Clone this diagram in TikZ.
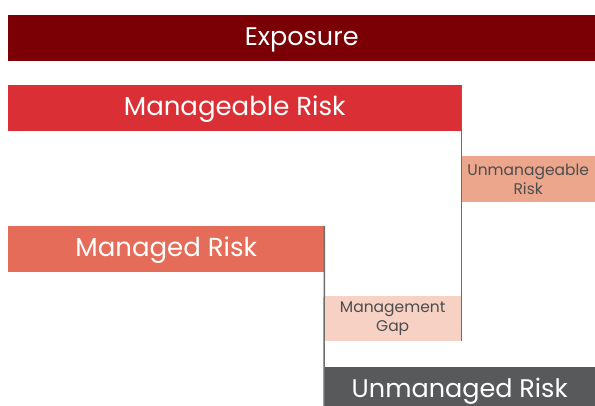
\documentclass[tikz,border=0pt]{standalone}
\usepackage{fontspec}
\setmainfont{Poppins}
\usetikzlibrary{positioning}

\definecolor{exposurered}{HTML}{7A0006}
\definecolor{manageablered}{HTML}{DA2F35}
\definecolor{managedred}{HTML}{E56C58}
\definecolor{unmanageablepink}{HTML}{ECA68C}
\definecolor{gappink}{HTML}{F6D1C4}
\definecolor{unmanagedgray}{HTML}{58595B}
\definecolor{rulegray}{HTML}{6D6D6D}
\definecolor{labelgray}{HTML}{4D4D4D}

\begin{document}
\begin{tikzpicture}[x=1pt, y=1pt,
    bar/.style = {rectangle, inner sep=0pt, anchor=north west, text=white,
        text height=18pt, text depth=3pt, font=\fontsize{26}{30}\selectfont},
    sub/.style = {rectangle, inner sep=0pt, anchor=north west, text=labelgray,
        align=center, font=\fontsize{15.5}{19}\selectfont},
    rule/.style = {draw=rulegray, line width=1.5pt}]
    \useasboundingbox (0,0) rectangle (595,-406);
    % the bars, top to bottom
    \node[bar, fill=exposurered, minimum width=587pt, minimum height=46pt,
        font=\fontsize{25.5}{30}\selectfont] (exposure) at (8,-15) {Exposure};
    \node[bar, fill=manageablered, minimum width=453pt, minimum height=46pt] (manageable) at (8,-85) {Manageable Risk};
    \node[sub, fill=unmanageablepink, minimum width=134pt, minimum height=46pt] (unmanageable) at (461,-156) {Unmanageable\\Risk};
    \node[bar, fill=managedred, minimum width=316pt, minimum height=46pt] (managed) at (8,-226) {Managed Risk};
    \node[sub, fill=gappink, minimum width=137pt, minimum height=45pt] (gap) at (324,-296) {Management\\Gap};
    \node[bar, fill=unmanagedgray, minimum width=271pt, minimum height=46pt,
        font=\fontsize{25.5}{30}\selectfont] (unmanaged) at (324,-367) {Unmanaged Risk};
    % split lines
    \draw[rule] (manageable.north east) -- (gap.south east);
    \draw[rule] (managed.north east) -- (unmanaged.south west);
\end{tikzpicture}
\end{document}
